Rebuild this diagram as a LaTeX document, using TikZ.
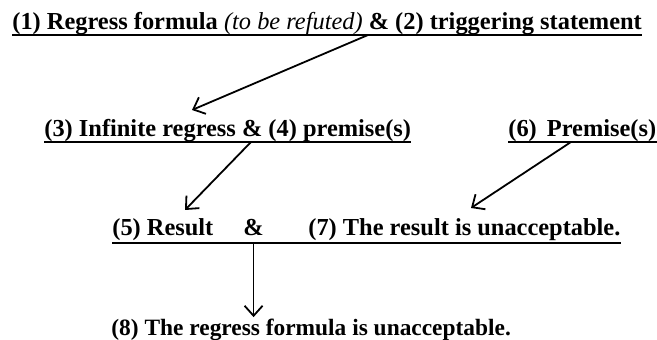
\documentclass[tikz,border=0pt]{standalone}
\usepackage{fontspec}
\setmainfont{Liberation Serif}
\usetikzlibrary{arrows.meta}

\begin{document}
\begin{tikzpicture}[x=0.5pt, y=-0.5pt,
  stmt/.style={inner sep=0pt, anchor=base west, font=\fontsize{12.2}{14}\selectfont\bfseries},
  rule/.style={line width=0.9pt},
  arr/.style={-{Straight Barb[length=5pt, width=9pt]}, line width=0.9pt}
]
  \useasboundingbox (0,0) rectangle (657,340);

  \node[stmt] (l1) at (12,30) {(1) Regress formula \textmd{\textit{(to be refuted)}} \& (2) triggering statement};
  \node[stmt] (l2) at (44,137) {(3) Infinite regress \& (4) premise(s)};
  \node[stmt] (l6) at (508,137) {(6)\hspace{5pt}Premise(s)};
  \node[stmt] (l5) at (112,236) {(5) Result};
  \node[stmt] (amp) at (243,236) {\&};
  \node[stmt] (l7) at (308,236) {(7) The result is unacceptable.};
  \node[stmt, font=\fontsize{11.7}{14}\selectfont\bfseries] (l8) at (111,336) {(8) The regress formula is unacceptable.};

  % underlines
  \draw[rule] ([yshift=-2.5pt]l1.base west) -- ([yshift=-2.5pt]l1.base east);
  \draw[rule] ([yshift=-2.5pt]l2.base west) -- ([yshift=-2.5pt]l2.base east);
  \draw[rule] ([yshift=-2.5pt]l6.base west) -- ([yshift=-2.5pt]l6.base east);
  \draw[rule] ([yshift=-3.5pt]l5.base west) -- ([yshift=-3.5pt]l7.base east);

  \coordinate (a1) at (368,35);
  \coordinate (b1) at (192,110);
  \coordinate (a2) at (251,142);
  \coordinate (b2) at (185,210);
  \coordinate (a3) at (571,142);
  \coordinate (b3) at (471,208);

  \draw[arr] (a1) -- (b1);
  \draw[arr] (a2) -- (b2);
  \draw[arr] (a3) -- (b3);
  \draw[arr] ([yshift=-3.5pt]amp.base) -- ([yshift=1pt]amp.base |- l8.north);
\end{tikzpicture}
\end{document}
